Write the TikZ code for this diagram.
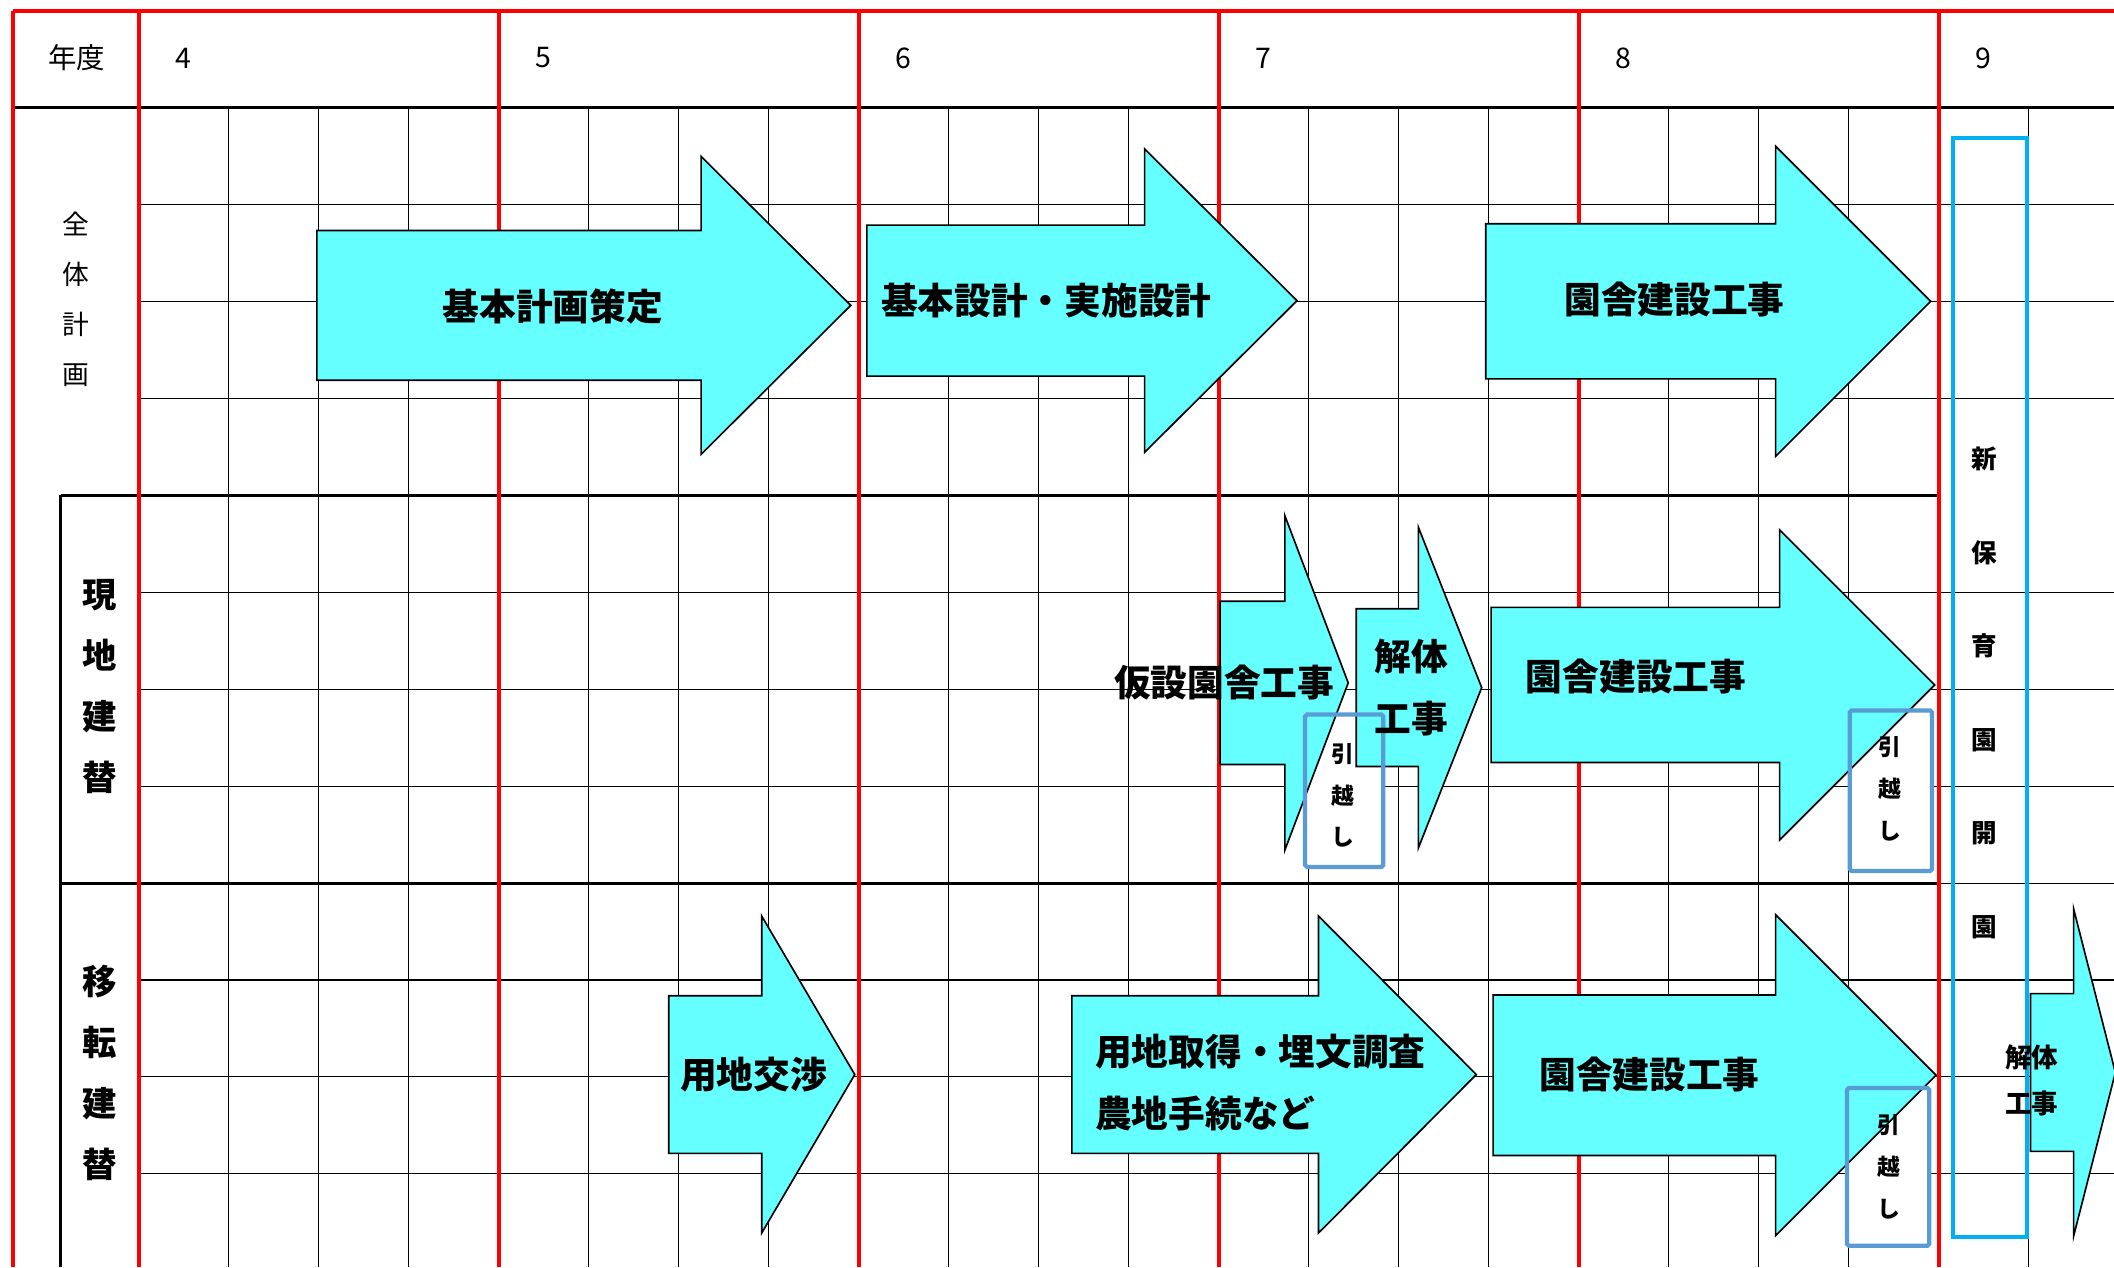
\documentclass[tikz,border=0pt]{standalone}
\usepackage{fontspec}
\setmainfont{Noto Sans CJK JP}
\definecolor{arrowcyan}{HTML}{66FFFF}
\definecolor{moveblue}{HTML}{5B9BD5}
\definecolor{openblue}{HTML}{00B0F0}
\newcommand{\planarrow}[6]{%
  \draw[bigarrow] (#1,{#4-#5}) -- (#2,{#4-#5}) -- (#2,{#4-#6}) -- (#3,#4) -- (#2,{#4+#6}) -- (#2,{#4+#5}) -- (#1,{#4+#5}) -- cycle;}

\begin{document}
\begin{tikzpicture}[x=0.02cm,y=-0.02cm,
    gridline/.style={black,line width=0.5pt},
    sectline/.style={black,line width=1.2pt},
    yearline/.style={red,line width=1.7pt},
    bigarrow/.style={fill=arrowcyan,draw=black,line width=0.7pt},
    movebox/.style={draw=moveblue,line width=1.8pt,rounded corners=0.8pt},
    openbox/.style={draw=openblue,line width=1.9pt},
    headtext/.style={font=\fontsize{12}{14}\selectfont,inner sep=0pt},
    sidetext/.style={font=\fontsize{11.3}{21}\selectfont,inner sep=0pt,align=center},
    rowtext/.style={font=\bfseries\fontsize{14.5}{25.8}\selectfont,inner sep=0pt,align=center},
    armtext/.style={font=\bfseries\fontsize{15.5}{26}\selectfont,inner sep=0pt,align=center},
    movetext/.style={font=\bfseries\fontsize{9.6}{17.6}\selectfont,inner sep=0pt,align=center},
    opentext/.style={font=\bfseries\fontsize{10.8}{39.5}\selectfont,inner sep=0pt,align=center}]
    \clip (0,0) rectangle (1568,940);
    \foreach \i in {0,...,5}
        \foreach \j in {1,2,3}
            \draw[gridline] ({103+267*\i+66.75*\j},80) -- ++(0,860);
    \foreach \j in {1,2,3,5,6,7,9,10,11}
        \draw[gridline] (103,{80+71.875*\j}) -- (1568,{80+71.875*\j});
    \draw[gridline] (1438,655) -- (1568,655);
    \draw[sectline] (10,80) -- (1568,80);
    \draw[sectline] (45,367.5) -- (1438,367.5);
    \draw[sectline] (45,655) -- (1438,655);
    \draw[sectline] (45,367.5) -- (45,940);
    \draw[yearline] (10,8) -- (1568,8);
    \draw[yearline] (10,8) -- (10,940);
    \foreach \i in {0,...,5}
        \draw[yearline] ({103+267*\i},8) -- ++(0,932);
    \fill[white] (968,530) rectangle (1026,643);
    \fill[white] (1372,527) rectangle (1433,646);
    \fill[white] (1370,807) rectangle (1431,924);
    \planarrow{235}{520}{631}{226.5}{55.5}{110.5}
    \planarrow{643}{849}{962}{223}{56}{112.5}
    \planarrow{1102}{1317}{1432}{223.5}{57.5}{115}
    \planarrow{905}{953}{1000}{506.5}{60.5}{124}
    \planarrow{1006}{1052}{1099}{510}{58.5}{119}
    \planarrow{1106}{1320}{1435}{508}{57.5}{115}
    \planarrow{496}{565}{634}{797}{58.5}{117.5}
    \planarrow{795}{978}{1095}{797}{58.5}{117.5}
    \planarrow{1107.5}{1317}{1436}{797.5}{59.5}{119}
    \planarrow{1506}{1538}{1569}{795.5}{58.5}{121.5}
    \draw[movebox] (968,530) rectangle (1026,643);
    \draw[movebox] (1372,527) rectangle (1433,646);
    \draw[movebox] (1370,807) rectangle (1431,924);
    \draw[openbox] (1448.5,102.5) rectangle (1503.5,917.5);
    \node[headtext] (nendo) at (57,43) {年度};
    \foreach \yr [count=\i from 0] in {4,...,9}
        \node[headtext] (yr\yr) at ({136+267*\i},43) {\yr};
    \node[sidetext] (zentai) at (56,222) {全\\体\\計\\画};
    \node[rowtext] (genchi) at (73.6,509) {現\\地\\建\\替};
    \node[rowtext] (iten) at (73.6,796) {移\\転\\建\\替};
    \node[armtext] (kihonkeikaku) at (410,227.5) {基本計画策定};
    \node[armtext] (kihonsekkei) at (776,223) {基本設計・実施設計};
    \node[armtext] (kensetsuA) at (1242,222) {園舎建設工事};
    \node[armtext] (kasetsu) at (908,506) {仮設園舎工事};
    \node[armtext] (kaitaiA) at (1047,510) {解体\\工事};
    \node[armtext] (kensetsuB) at (1213.5,502) {園舎建設工事};
    \node[armtext] (kosho) at (559,797) {用地交渉};
    \node[armtext,anchor=west,align=left] (shutoku) at (812,803) {用地取得・埋文調査\\農地手続など};
    \node[armtext] (kensetsuC) at (1223.5,797) {園舎建設工事};
    \node[movetext] (hikkoshiA) at (996,590) {引\\越\\し};
    \node[movetext] (hikkoshiB) at (1402,585) {引\\越\\し};
    \node[movetext] (hikkoshiC) at (1401,865.5) {引\\越\\し};
    \node[opentext] (kaien) at (1472,514) {新\\保\\育\\園\\開\\園};
    \node[font=\bfseries\fontsize{11.2}{19.3}\selectfont,inner sep=0pt,align=center] (kaitaiB) at (1507,801.5) {解体\\工事};
\end{tikzpicture}
\end{document}
